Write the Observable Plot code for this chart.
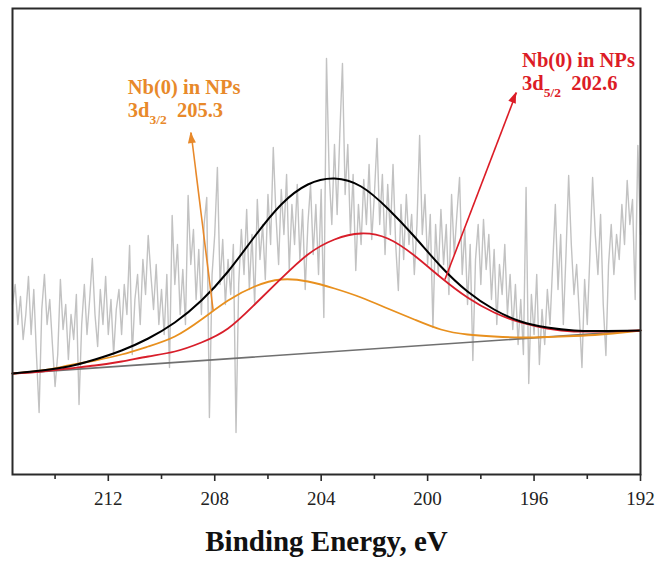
<!DOCTYPE html>
<html>
<head>
<meta charset="utf-8">
<script src="https://cdn.jsdelivr.net/npm/d3@7"></script>
<script src="https://cdn.jsdelivr.net/npm/@observablehq/plot@0.6"></script>
<style>
  html, body { margin: 0; padding: 0; background: #fff; }
  #chart svg { display: block; }
</style>
</head>
<body>
<div id="chart"></div>
<script>
// ---- Raw XPS spectrum (Nb 3d region), sampled every 0.1 eV from 215.6 down to 192.0 eV
const rawStart = 215.6;
const rawStep = 0.1;
const rawIntensity = [
  170,190,150,178,135,160,198,140,185,120, 62,165,200,150,175,130, 88,120,195,145,
  170,115,160,135,180, 70,150,190,140,175,216,160,128,185,150,198,140,175,120,165,185,
  140,190,160,229,120,175,200,150,215,180,239,200,165,210,150,185,140,200,107,259,
  190,230,160,205,150,279,210,245,175,225,160,250,277, 57,200,240,307,190,235,170,215,
  180,230, 42,190,245,200,265,185,240,170,275,215,250,195,280,230,327,260,210,285,
  240,300,205,270,230,290,215,265,185,250,290,220,270,200,285,157,416,300,250,330,
  260,340,411,280,330,240,300,204,270,230,295,250,310,235,280,336,250,300,220,290,
  240,310,230,184,270,215,280,230,260,200,250,339,240,280,210,260,147,250,200,265,
  210,250,180,280,220,260,297,200,245,170,230,114,215,250,190,255,205,240,175,225,
  150,210,180,230,160,200,145,190,130,175,120,287, 91,180,140,200,110,165,130,185,150,
  210,270,185,240,150,220,299,230,180,210,160,107,195,150,220,297,240,200,260,170,
  119,210,250,200,240,215,270,230,294,250,275,175,329,240
];

// ---- Fitted components, read at sample energies (eV)
const fitEnergy   = [215.6,214.5,213.5,212.5,211.5,210.5,209.5,208.5,207.5,206.5,205.5,204.5,203.5,202.5,201.5,200.5,199.5,198.5,197.5,196.5,195.5,194.5,193.5,192.5,192.0];
const envelope    = [101,104,108,115,124,136,152,174,203,238,270,290,296,288,266,238,208,183,165,153,147,144,143.5,143.8,144];
const peak52      = [101,103,106,109,113,118,123,132,146,170,196,220,235,241,236,219,197,177,162,152,146,143,143,143.5,144];
const peak32      = [101,104,109,114,120,128,138,155,174,188,195,193,186,177,166,155,145,140,138,137,137.5,138.5,140,142.5,144];
const baseEnergy  = [215.6, 192.0];
const baseValue   = [100.9, 144];

// ---- Axis
const majorTicks = [212, 208, 204, 200, 196, 192];
const minorTicks = [214, 210, 206, 202, 198, 194];
const xTitle = "Binding Energy, eV";

// ---- Annotations
const labelTitle = ["Nb(0) in NPs", "Nb(0) in NPs"];
const labelOrbital = ["3d", "3d"];
const labelSub = ["3/2", "5/2"];
const labelValue = ["205.3", "202.6"];
const labelX = [211.25, 196.43];
const labelY = [380, 407];
const arrowFrom = [[208.06, 164], [199.35, 195]];
const arrowTo = [[208.89, 342], [196.66, 382]];

const ORANGE = "#e8892a";
const RED = "#dc1c26";
const labelColors = [ORANGE, RED];
const FONT = "'Liberation Serif', 'Times New Roman', serif";

const raw = rawIntensity.map((v, i) => ({e: +(rawStart - i * rawStep).toFixed(2), v}));
const fit = (arr) => fitEnergy.map((e, i) => ({e, v: arr[i]}));
const base = baseEnergy.map((e, i) => ({e, v: baseValue[i]}));
const arrows = arrowFrom.map((f, i) => ({x1: f[0], y1: f[1], x2: arrowTo[i][0], y2: arrowTo[i][1], color: labelColors[i]}));
const labels = labelTitle.map((t, i) => ({title: t, orb: labelOrbital[i], sub: labelSub[i], val: labelValue[i], x: labelX[i], y: labelY[i], color: labelColors[i]}));

function annotate(index, scales) {
  const g = d3.create("svg:g").attr("text-anchor", "start");
  for (const a of arrows) {
    const x1 = scales.x(a.x1), y1 = scales.y(a.y1), x2 = scales.x(a.x2), y2 = scales.y(a.y2);
    const ang = Math.atan2(y2 - y1, x2 - x1);
    const L = 11, W = 4;
    const bx = x2 - L * Math.cos(ang), by = y2 - L * Math.sin(ang);
    const px = -Math.sin(ang) * W, py = Math.cos(ang) * W;
    g.append("path")
      .attr("d", `M${x2},${y2}L${bx + px},${by + py}L${bx - px},${by - py}Z`)
      .attr("fill", a.color);
  }
  for (const l of labels) {
    const x = scales.x(l.x), y = scales.y(l.y);
    g.append("text")
      .attr("x", x).attr("y", y).attr("text-anchor", "start")
      .attr("fill", l.color).attr("font-weight", "bold")
      .attr("font-size", 20.5).attr("font-family", FONT)
      .text(l.title);
    const t2 = g.append("text")
      .attr("x", x).attr("y", y + 23).attr("text-anchor", "start")
      .attr("fill", l.color).attr("font-weight", "bold")
      .attr("font-size", 20.5).attr("font-family", FONT);
    t2.append("tspan").text(l.orb);
    t2.append("tspan").attr("font-size", 13.5).attr("dy", 7).text(l.sub);
    t2.append("tspan").attr("dy", -7).text("\u00a0\u00a0" + l.val);
  }
  return g.node();
}

const chart = Plot.plot({
  width: 659,
  height: 563,
  marginLeft: 12,
  marginRight: 19,
  marginTop: 8,
  marginBottom: 89,
  style: {fontFamily: FONT, background: "#fff", color: "#222"},
  x: {domain: [215.6, 192], label: null},
  y: {domain: [0, 466], axis: null},
  marks: [
    Plot.line(raw, {x: "e", y: "v", stroke: "#c2c2c2", strokeWidth: 1.4}),
    Plot.line(base, {x: "e", y: "v", stroke: "#707070", strokeWidth: 1.6}),
    Plot.line(fit(peak32), {x: "e", y: "v", stroke: "#e8901e", strokeWidth: 1.8, curve: "natural"}),
    Plot.line(fit(peak52), {x: "e", y: "v", stroke: "#d81e2a", strokeWidth: 1.8, curve: "natural"}),
    Plot.line(fit(envelope), {x: "e", y: "v", stroke: "#000", strokeWidth: 2, curve: "natural"}),
    Plot.link(arrows, {x1: "x1", y1: "y1", x2: "x2", y2: "y2", stroke: "color", strokeWidth: 1.6}),
    annotate,
    Plot.frame({stroke: "#2a2a2a", strokeWidth: 2}),
    Plot.axisX({ticks: minorTicks, tickSize: 5, tickFormat: () => "", stroke: "#2a2a2a", strokeWidth: 1.6}),
    Plot.axisX({ticks: majorTicks, tickSize: 7, tickPadding: 10, fontSize: 19, fontFamily: FONT, stroke: "#2a2a2a", strokeWidth: 1.6, fill: "#222", label: null}),
    Plot.text([xTitle], {frameAnchor: "bottom", text: d => d, dy: 76, lineAnchor: "bottom", fontSize: 29, fontWeight: "bold", fontFamily: FONT, fill: "#111"})
  ]
});
document.getElementById("chart").appendChild(chart);
</script>
</body>
</html>
